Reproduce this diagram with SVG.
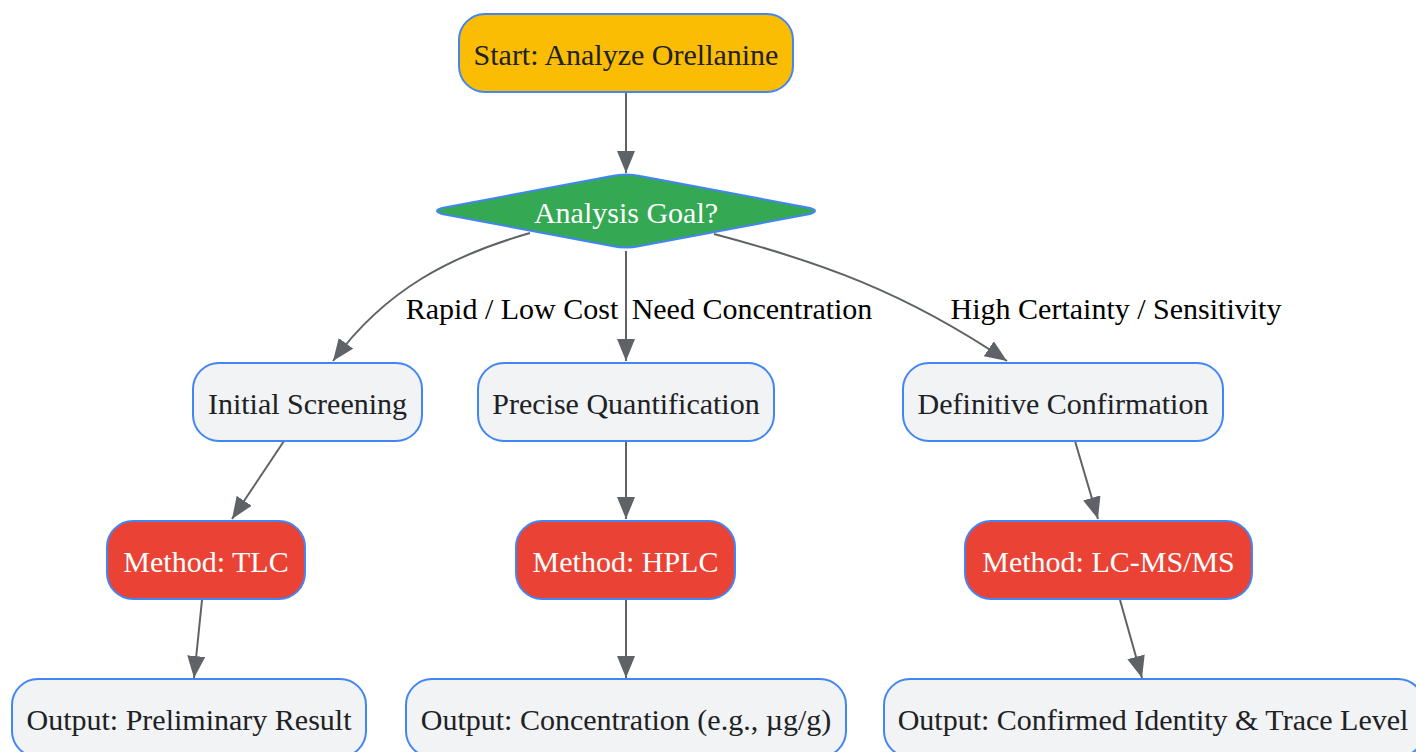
<svg xmlns="http://www.w3.org/2000/svg" width="1416" height="752" viewBox="0 0 1416 752">
<style>
.n{stroke:#4285f4;stroke-width:2}
.grey{fill:#f1f3f4}
.red{fill:#ea4335}
.t{font-family:"Liberation Serif","Times New Roman",serif;font-size:30px;text-anchor:middle;dominant-baseline:central;fill:#202124}
.w{fill:#ffffff}
.e{fill:none;stroke:#5f6368;stroke-width:2}
.lbl{font-family:"Liberation Serif","Times New Roman",serif;font-size:30px;text-anchor:middle;dominant-baseline:central;fill:#000000}
</style>
<defs>
<marker id="arr" markerWidth="24" markerHeight="20" refX="22" refY="9" orient="auto" markerUnits="userSpaceOnUse">
<path d="M0,0 L22,9 L0,18 Z" fill="#5f6368"/>
</marker>
</defs>
<g id="connectors">
<path class="e" d="M626,92 L626,173" marker-end="url(#arr)"/>
<path class="e" d="M530,233 C450,256 385,290 333,361" marker-end="url(#arr)"/>
<path class="e" d="M626,251 L626,361" marker-end="url(#arr)"/>
<path class="e" d="M714,234 C820,262 905,292 1007,361" marker-end="url(#arr)"/>
<path class="e" d="M284,441 L232,519" marker-end="url(#arr)"/>
<path class="e" d="M202,600 L194,678" marker-end="url(#arr)"/>
<path class="e" d="M626,441 L626,519" marker-end="url(#arr)"/>
<path class="e" d="M626,599 L626,678" marker-end="url(#arr)"/>
<path class="e" d="M1075,441 L1098,519" marker-end="url(#arr)"/>
<path class="e" d="M1120,600 L1142,678" marker-end="url(#arr)"/>
<text class="lbl" x="512" y="308">Rapid / Low Cost</text>
<text class="lbl" x="752" y="308">Need Concentration</text>
<text class="lbl" x="1116" y="308">High Certainty / Sensitivity</text>
</g>
<g id="start">
<rect class="n" x="459" y="14" width="334" height="78" rx="26" fill="#fbbc04"/>
<text class="t" x="626" y="54">Start: Analyze Orellanine</text>
</g>
<g id="goal">
<path class="n" d="M442,208 L612,176 Q626,173 640,176 L810,208 Q820,211 810,214 L640,246 Q626,249 612,246 L442,214 Q432,211 442,208 Z" fill="#34a853"/>
<text class="t w" x="626" y="212">Analysis Goal?</text>
</g>
<g id="screening">
<rect class="n grey" x="193" y="363" width="229" height="78" rx="26"/>
<text class="t" x="307.5" y="403">Initial Screening</text>
</g>
<g id="quant">
<rect class="n grey" x="478" y="363" width="296" height="78" rx="26"/>
<text class="t" x="626" y="403">Precise Quantification</text>
</g>
<g id="confirm">
<rect class="n grey" x="903" y="363" width="320" height="78" rx="26"/>
<text class="t" x="1063" y="403">Definitive Confirmation</text>
</g>
<g id="tlc">
<rect class="n red" x="107" y="521" width="198" height="78" rx="26"/>
<text class="t w" x="206" y="561">Method: TLC</text>
</g>
<g id="hplc">
<rect class="n red" x="516" y="521" width="219" height="78" rx="26"/>
<text class="t w" x="625.5" y="561">Method: HPLC</text>
</g>
<g id="lcms">
<rect class="n red" x="965" y="521" width="287" height="78" rx="26"/>
<text class="t w" x="1108.5" y="561">Method: LC-MS/MS</text>
</g>
<g id="out1">
<rect class="n grey" x="12" y="679" width="354" height="78" rx="26"/>
<text class="t" x="189" y="719">Output: Preliminary Result</text>
</g>
<g id="out2">
<rect class="n grey" x="406" y="679" width="440" height="78" rx="26"/>
<text class="t" x="626" y="719">Output: Concentration (e.g., µg/g)</text>
</g>
<g id="out3">
<rect class="n grey" x="884" y="679" width="540" height="78" rx="26"/>
<text class="t" x="1153" y="719">Output: Confirmed Identity &amp; Trace Level</text>
</g>
</svg>
